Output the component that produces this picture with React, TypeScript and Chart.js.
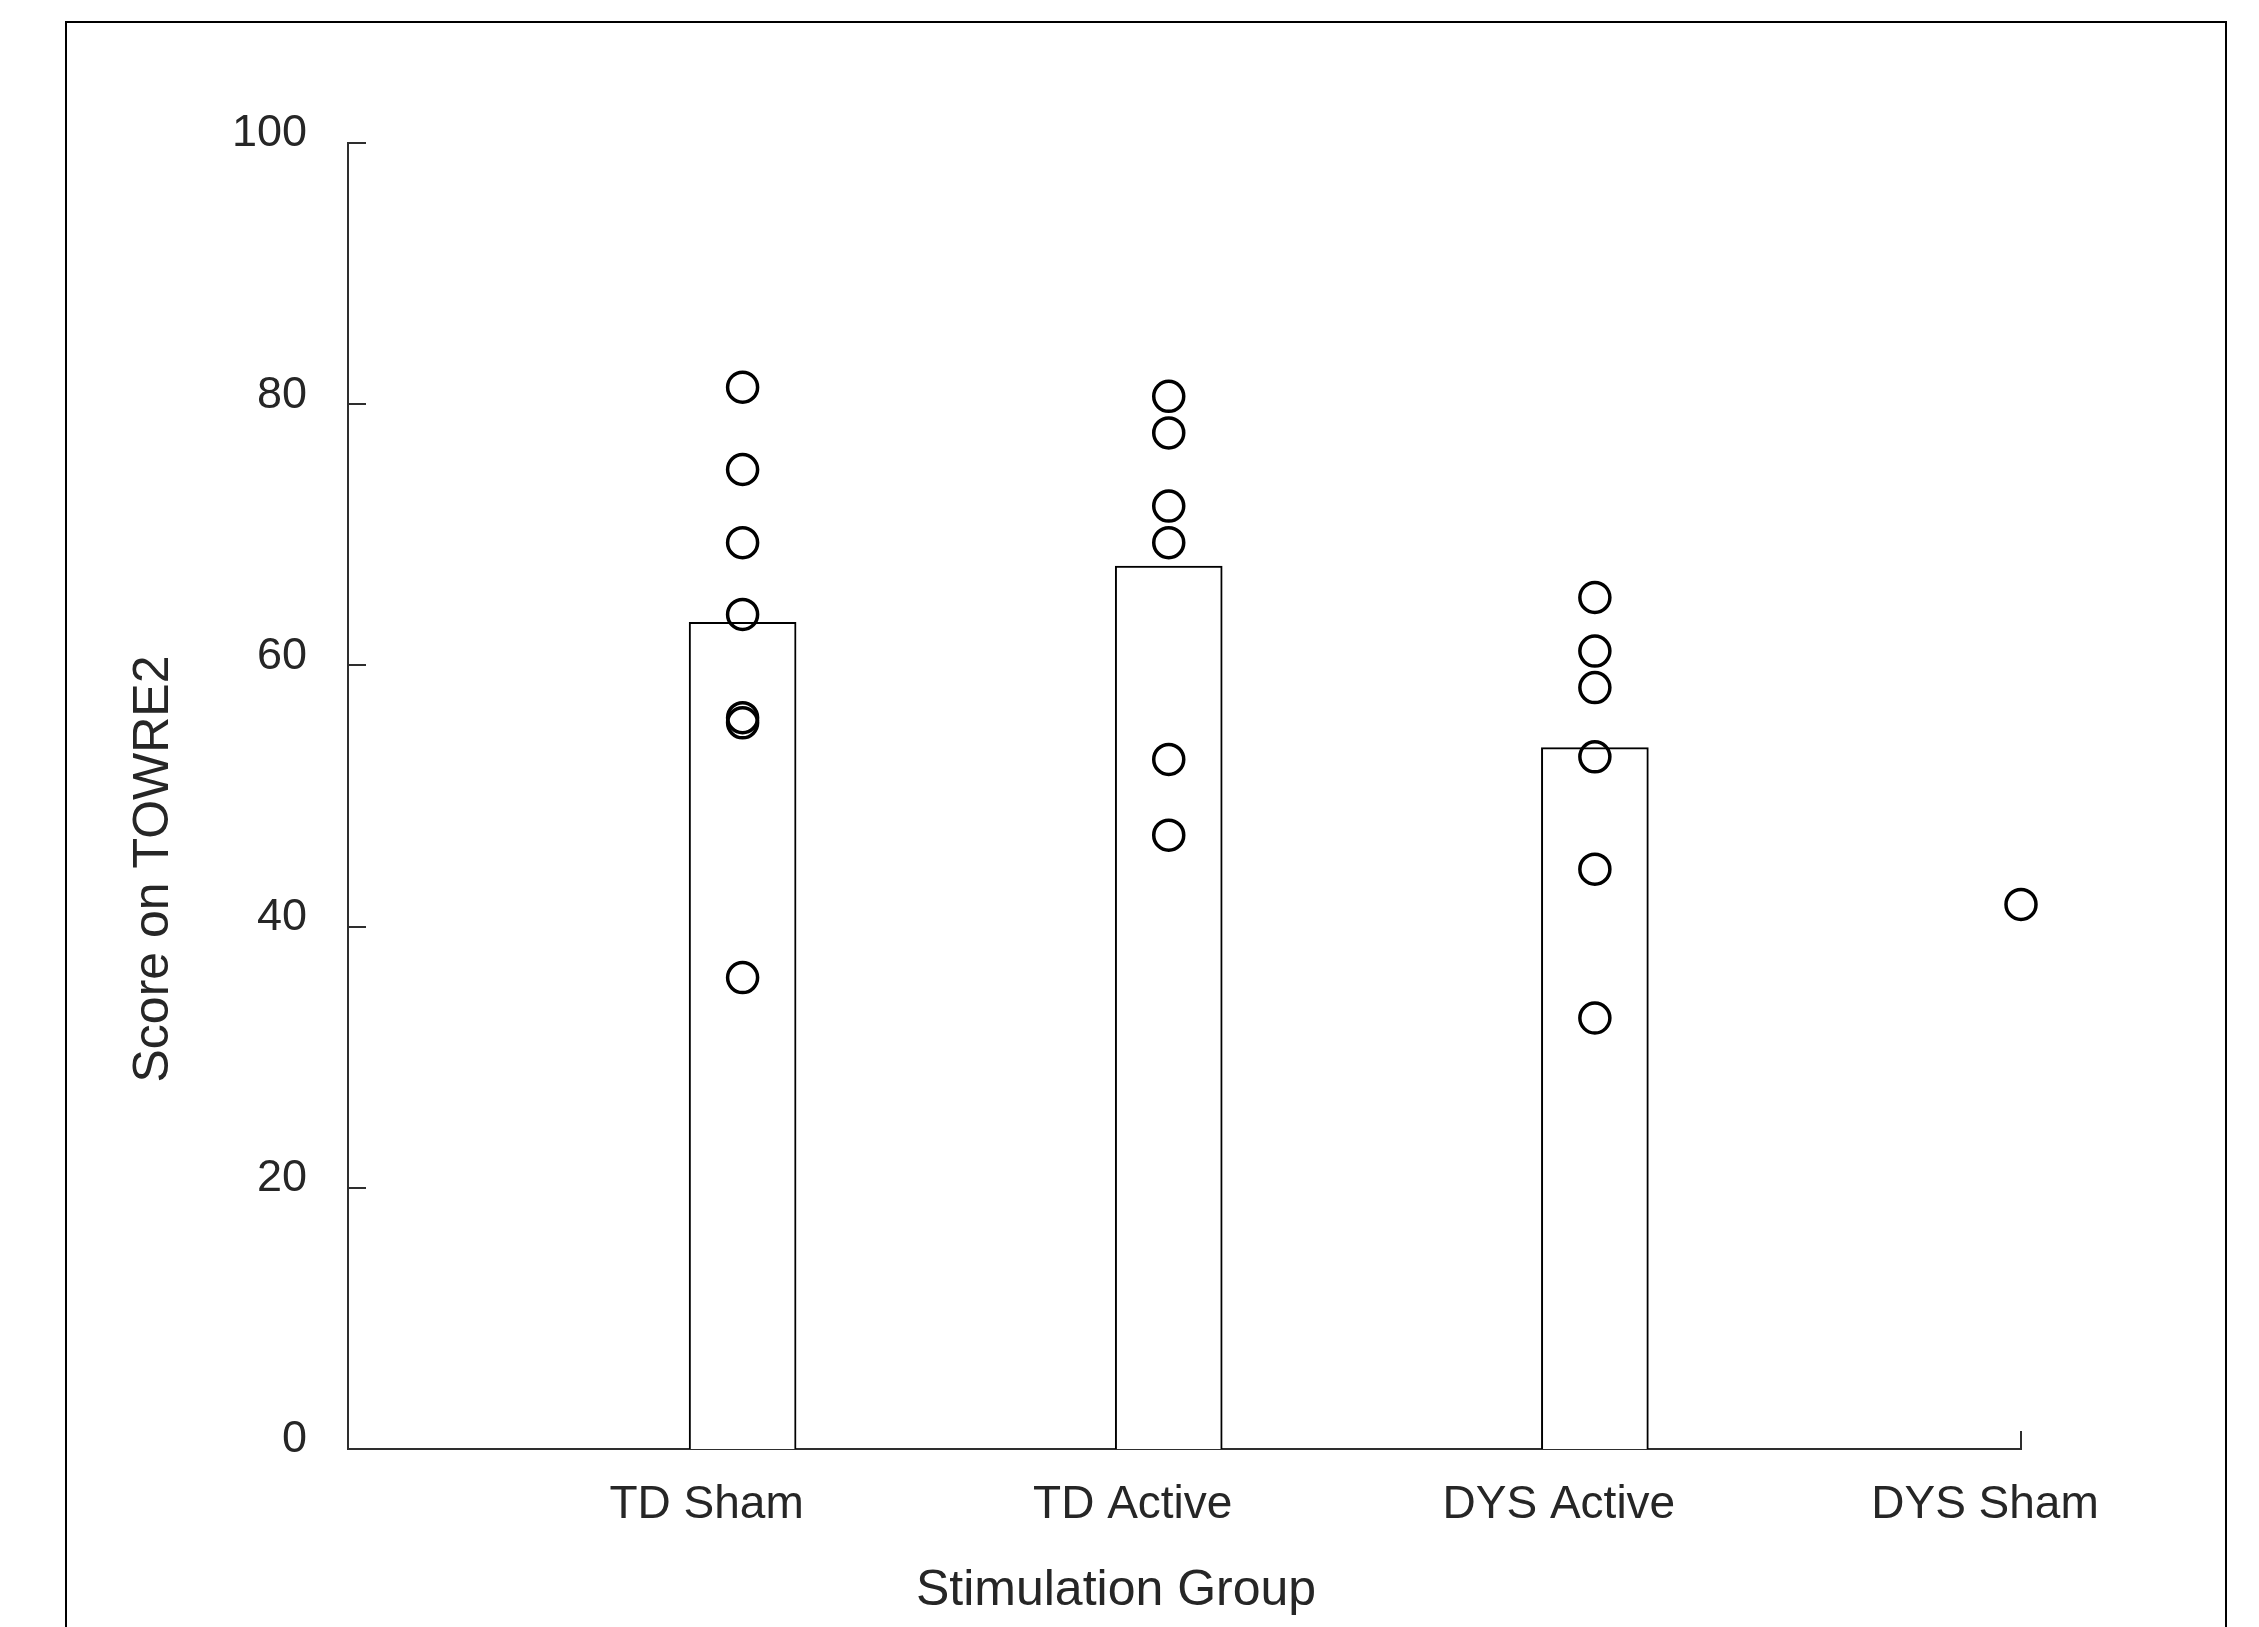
import React, { useEffect, useRef } from 'react';
import { Chart, registerables } from 'chart.js';

Chart.register(...registerables);

// ---------- data ----------
const categories = ['TD Sham', 'TD Active', 'DYS Active', 'DYS Sham'];
const groupMeans: (number | null)[] = [63.3, 67.6, 53.7, null];
const tdShamScores = [81.3, 75.0, 69.4, 63.9, 56.0, 55.6, 36.1];
const tdActiveScores = [80.6, 77.8, 72.2, 69.4, 52.8, 47.0];
const dysActiveScores = [65.2, 61.1, 58.3, 53.0, 44.4, 33.0];
const dysShamScores = [41.7];
const yTickValues = [0, 20, 40, 60, 80, 100];
const xTitle = 'Stimulation Group';
const yTitle = 'Score on TOWRE2';

// ---------- style ----------
const FONT = '"Liberation Sans", Arial, Helvetica, sans-serif';
const TEXT = '#262626';
const AXIS = '#2e2e2e';

const framePlugin = {
  id: 'frame',
  beforeDraw(chart: any) {
    const ctx = chart.ctx;
    ctx.save();
    ctx.fillStyle = '#ffffff';
    ctx.fillRect(0, 0, chart.width, chart.height);
    ctx.strokeStyle = '#000000';
    ctx.lineWidth = 2;
    ctx.beginPath();
    ctx.moveTo(66, chart.height + 20);
    ctx.lineTo(66, 22);
    ctx.lineTo(2226, 22);
    ctx.lineTo(2226, chart.height + 20);
    ctx.stroke();
    ctx.restore();
  },
};

const inwardTicksPlugin = {
  id: 'inwardTicks',
  beforeDatasetsDraw(chart: any) {
    const { ctx, chartArea, scales } = chart;
    const x = scales.x;
    const y = scales.y;
    const len = 18;
    ctx.save();
    ctx.strokeStyle = AXIS;
    ctx.lineWidth = 2;
    ctx.beginPath();
    yTickValues.forEach((v) => {
      const py = Math.round(y.getPixelForValue(v));
      ctx.moveTo(chartArea.left, py);
      ctx.lineTo(chartArea.left + len, py);
    });
    categories.forEach((_, i) => {
      const px = Math.round(x.getPixelForValue(i));
      ctx.moveTo(px, chartArea.bottom);
      ctx.lineTo(px, chartArea.bottom - len);
    });
    ctx.stroke();
    ctx.restore();
  },
};

const axisTitlesPlugin = {
  id: 'axisTitles',
  afterDraw(chart: any) {
    const ctx = chart.ctx;
    ctx.save();
    ctx.fillStyle = TEXT;
    ctx.font = `50px ${FONT}`;
    ctx.textAlign = 'center';
    ctx.textBaseline = 'alphabetic';
    ctx.fillText(xTitle, 1116, 1605);
    ctx.translate(168, 869);
    ctx.rotate(-Math.PI / 2);
    ctx.fillText(yTitle, 0, 0);
    ctx.restore();
  },
};

export default function App() {
  const canvasRef = useRef<HTMLCanvasElement | null>(null);

  useEffect(() => {
    const canvas = canvasRef.current;
    if (!canvas) return;

    const groups = [tdShamScores, tdActiveScores, dysActiveScores, dysShamScores];
    const points = groups.flatMap((arr, i) => arr.map((v) => ({ x: i, y: v })));
    const bars = groupMeans
      .map((v, i) => (v == null ? null : { x: i, y: v }))
      .filter((p) => p !== null);

    const chart = new Chart(canvas, {
      type: 'bar',
      data: {
        datasets: [
          {
            type: 'scatter',
            label: 'Individual scores',
            data: points,
            order: 0,
            clip: false,
            showLine: false,
            pointRadius: 15,
            pointBorderWidth: 3.5,
            pointBorderColor: '#000000',
            pointBackgroundColor: 'rgba(0,0,0,0)',
            borderColor: '#000000',
            backgroundColor: 'rgba(0,0,0,0)',
          } as any,
          {
            type: 'bar',
            label: 'Group mean',
            data: bars as any,
            order: 1,
            backgroundColor: '#ffffff',
            borderColor: '#000000',
            borderWidth: 2,
            barThickness: 107,
          } as any,
        ],
      },
      options: {
        responsive: false,
        animation: false,
        events: [],
        layout: { padding: { left: 0, top: 143, right: 238, bottom: 0 } },
        plugins: {
          legend: { display: false },
          tooltip: { enabled: false },
          title: { display: false },
        },
        scales: {
          x: {
            type: 'linear',
            min: -0.926,
            max: 3,
            offset: false,
            grid: { display: false, drawTicks: false },
            border: { display: true, color: AXIS, width: 2 },
            afterBuildTicks: (s: any) => {
              s.ticks = categories.map((_, i) => ({ value: i }));
            },
            afterFit: (s: any) => {
              s.height = 178;
            },
            ticks: {
              autoSkip: false,
              maxRotation: 0,
              minRotation: 0,
              labelOffset: -36,
              padding: 29,
              color: TEXT,
              font: { family: FONT, size: 46 },
              callback: (v: any) => categories[Number(v)] ?? '',
            },
          },
          y: {
            type: 'linear',
            min: 0,
            max: 100,
            grid: { display: false, drawTicks: false },
            border: { display: true, color: AXIS, width: 2 },
            afterBuildTicks: (s: any) => {
              s.ticks = yTickValues.map((v) => ({ value: v }));
            },
            afterFit: (s: any) => {
              s.width = 348;
            },
            ticks: {
              padding: 41,
              labelOffset: -9,
              color: TEXT,
              font: { family: FONT, size: 45 },
              callback: (v: any) => String(v),
            },
          },
        },
      } as any,
      plugins: [framePlugin, inwardTicksPlugin, axisTitlesPlugin],
    });

    return () => {
      chart.destroy();
    };
  }, []);

  return (
    <canvas
      ref={canvasRef}
      width={2259}
      height={1627}
      style={{ position: 'absolute', left: 0, top: 0, width: 2259, height: 1627, display: 'block' }}
    />
  );
}
